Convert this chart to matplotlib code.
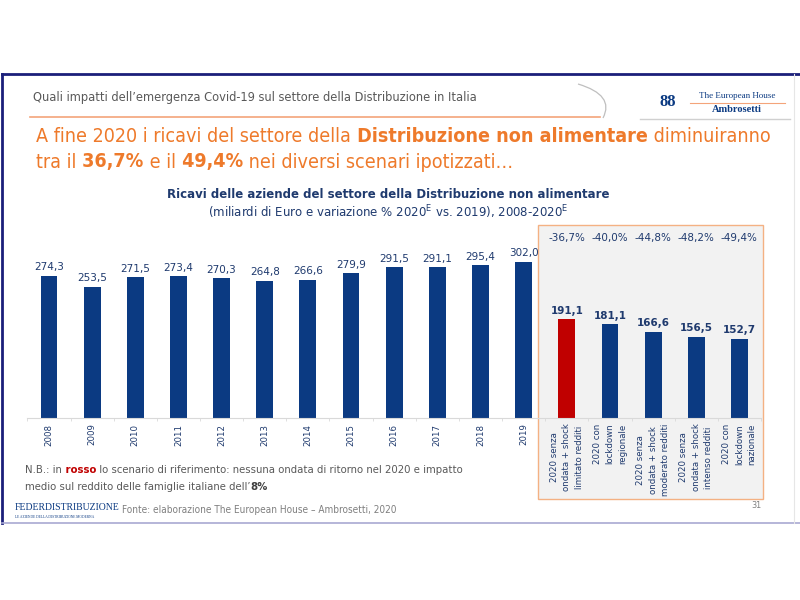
import matplotlib.pyplot as plt
import matplotlib.transforms as mtransforms
from matplotlib.patches import Rectangle, PathPatch
from matplotlib.path import Path
from matplotlib.lines import Line2D

# data
years = ["2008", "2009", "2010", "2011", "2012", "2013", "2014", "2015",
         "2016", "2017", "2018", "2019"]
ricavi = [274.3, 253.5, 271.5, 273.4, 270.3, 264.8, 266.6, 279.9,
          291.5, 291.1, 295.4, 302.0]
scenari = ["2020 senza\nondata + shock\nlimitato redditi",
           "2020 con\nlockdown\nregionale",
           "2020 senza\nondata + shock\nmoderato redditi",
           "2020 senza\nondata + shock\nintenso redditi",
           "2020 con\nlockdown\nnazionale"]
ricavi_2020 = [191.1, 181.1, 166.6, 156.5, 152.7]
variazione = ["-36,7%", "-40,0%", "-44,8%", "-48,2%", "-49,4%"]

NAVY = "#0B3A82"
TEXT_NAVY = "#1F3A6E"
RED = "#C00000"
ORANGE = "#EE7A2B"
GREY = "#595959"
NARROW = "DejaVu Sans"
STRETCH = "condensed"

W, H = 800, 600
fig = plt.figure(figsize=(8, 6), dpi=100)


def fx(px):
    return px / W


def fy(py):
    return 1 - py / H


def rich(x, y, parts, size):
    # pieces of text one after another; spaces go at the start of a piece
    r = fig.canvas.get_renderer()
    for txt, weight, color in parts:
        t = fig.text(fx(x), fy(y), txt, fontsize=size, fontweight=weight,
                     color=color, family=NARROW, fontstretch=STRETCH,
                     va="center", ha="left")
        bb = t.get_window_extent(renderer=r)
        x += bb.width


# slide frame
fig.add_artist(Line2D([fx(2), fx(800)], [fy(74), fy(74)], color="#1B1F7A", lw=2))
fig.add_artist(Line2D([fx(2), fx(2)], [fy(74), fy(523)], color="#1B1F7A", lw=2))
fig.add_artist(Line2D([fx(2), fx(800)], [fy(523), fy(523)], color="#A9A9D2", lw=1.2))
fig.add_artist(Line2D([fx(794), fx(794)], [fy(74), fy(523)], color="#E6E6E6", lw=0.8))

# header
fig.text(fx(33), fy(98), "Quali impatti dell’emergenza Covid-19 sul settore della Distribuzione in Italia",
         fontsize=9.2, color=GREY, family=NARROW, fontstretch=STRETCH, va="center")
fig.add_artist(Line2D([fx(30), fx(600)], [fy(117), fy(117)], color="#F4A47A", lw=1.2))
sail = Path([(fx(578), fy(84)), (fx(615), fy(95)), (fx(603), fy(118))],
            [Path.MOVETO, Path.CURVE3, Path.CURVE3])
fig.add_artist(PathPatch(sail, transform=fig.transFigure, fill=False,
                         edgecolor="#BFBFBF", lw=0.9))
fig.add_artist(Line2D([fx(640), fx(790)], [fy(119), fy(119)], color="#D0D0D0", lw=1.0))

# logo The European House - Ambrosetti
fig.text(fx(668), fy(102), "88", fontsize=12, fontweight="bold", color=NAVY,
         family="Liberation Serif", ha="center", va="center")
fig.text(fx(737), fy(96), "The European House", fontsize=6.5, color=NAVY,
         family="Liberation Serif", ha="center", va="center")
fig.add_artist(Line2D([fx(690), fx(785)], [fy(103), fy(103)], color="#F4A47A", lw=0.8))
fig.text(fx(737), fy(110), "Ambrosetti", fontsize=7.5, fontweight="bold", color=NAVY,
         family="Liberation Serif", ha="center", va="center")

# headline
rich(36, 137, [("A fine 2020 i ricavi del settore della", "normal", ORANGE),
               (" Distribuzione non alimentare", "bold", ORANGE),
               (" diminuiranno", "normal", ORANGE)], 14.1)
rich(36, 162, [("tra il", "normal", ORANGE),
               (" 36,7%", "bold", ORANGE),
               (" e il", "normal", ORANGE),
               (" 49,4%", "bold", ORANGE),
               (" nei diversi scenari ipotizzati…", "normal", ORANGE)], 14.1)

# chart titles
fig.text(fx(388), fy(195), "Ricavi delle aziende del settore della Distribuzione non alimentare",
         fontsize=8.5, fontweight="bold", color=TEXT_NAVY, ha="center", va="center")
fig.text(fx(388), fy(212),
         r"(miliardi di Euro e variazione % 2020$^\mathrm{E}$ vs. 2019), 2008-2020$^\mathrm{E}$",
         fontsize=8.5, color=TEXT_NAVY, ha="center", va="center")

# scenario panel
fig.add_artist(Rectangle((fx(538), fy(499)), fx(763) - fx(538), fy(225) - fy(499),
                         transform=fig.transFigure, facecolor="#F2F2F2",
                         edgecolor="#F4B183", lw=1.0, zorder=-1))

# chart
ax = fig.add_axes([fx(27.4), fy(418), fx(761) - fx(27.4), fy(225) - fy(418)])
ax.patch.set_visible(False)

labels = years + scenari
values = ricavi + ricavi_2020
colors = [NAVY] * len(ricavi) + [RED] + [NAVY] * (len(ricavi_2020) - 1)
xs = list(range(len(labels)))
ax.bar(xs, values, width=0.39, color=colors, zorder=2)

ax.set_xlim(-0.5, len(labels) - 0.5)
ax.set_ylim(0, 372.6)

for i, v in enumerate(values):
    bold = i >= len(ricavi)
    ax.annotate(f"{v:.1f}".replace(".", ","), (i, v), xytext=(0, 2.5),
                textcoords="offset points", ha="center", va="bottom",
                fontsize=7.5, color=TEXT_NAVY,
                fontweight="bold" if bold else "normal")

blend = mtransforms.blended_transform_factory(ax.transData, ax.transAxes)
for j, p in enumerate(variazione):
    ax.text(len(ricavi) + j, 0.933, p, transform=blend, ha="center", va="center",
            fontsize=7.5, color=TEXT_NAVY)

for s in ["top", "right", "left"]:
    ax.spines[s].set_visible(False)
ax.spines["bottom"].set_color("#D9D9D9")
ax.set_yticks([])
ax.set_xticks(xs)
ax.set_xticklabels(labels, rotation=90, fontsize=6.2, color=TEXT_NAVY,
                   multialignment="center", linespacing=1.5)
ax.set_xticks([i - 0.5 for i in range(len(labels) + 1)], minor=True)
ax.tick_params(axis="x", which="major", length=0, pad=4)
ax.tick_params(axis="x", which="minor", length=2.5, color="#D9D9D9")

# note
rich(25, 470, [("N.B.: in", "normal", GREY),
               (" rosso", "bold", RED),
               (" lo scenario di riferimento: nessuna ondata di ritorno nel 2020 e impatto", "normal", GREY)], 8.1)
rich(25, 487, [("medio sul reddito delle famiglie italiane dell’", "normal", GREY),
               ("8%", "bold", "#404040")], 8.1)

# footer
fig.text(fx(15), fy(508), "FEDERDISTRIBUZIONE", fontsize=7, color=NAVY,
         family="Liberation Serif", va="center")
fig.text(fx(15), fy(517), "LE AZIENDE DELLA DISTRIBUZIONE MODERNA", fontsize=2.6,
         color=NAVY, family="Liberation Serif", va="center")
fig.text(fx(122), fy(510), "Fonte: elaborazione The European House – Ambrosetti, 2020",
         fontsize=7.2, color="#7F7F7F", family=NARROW, fontstretch=STRETCH, va="center")
fig.text(fx(762), fy(506), "31", fontsize=6.5, color="#7F7F7F", family=NARROW,
         fontstretch=STRETCH, ha="right", va="center")

fig.savefig("out.png", dpi=100)
